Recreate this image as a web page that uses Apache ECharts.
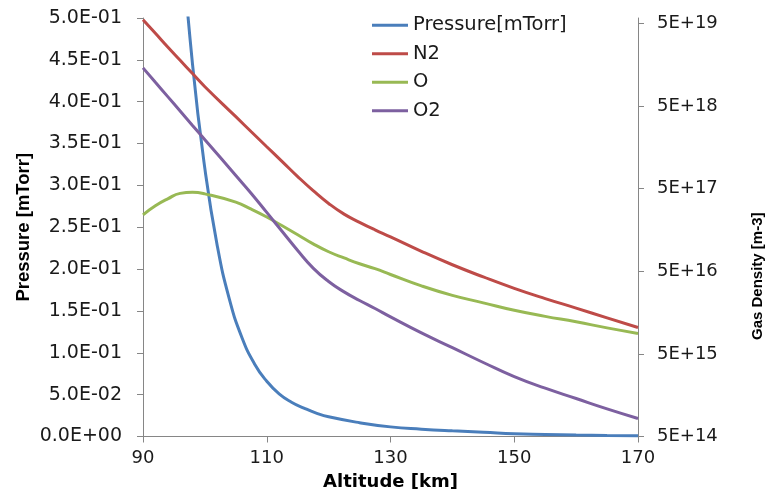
<!DOCTYPE html>
<html><head><meta charset="utf-8">
<script src="https://cdn.jsdelivr.net/npm/echarts@6/dist/echarts.min.js"></script>
<style>html,body{margin:0;padding:0;background:#fff;overflow:hidden}#c{width:769px;height:498px}</style>
</head><body><div id="c"></div>
<script>
// Altitude [km] for pressure curve
const altPressure = [90,92,94,96,98,100,102,104,106,108,110,112,114,116,118,120,125,130,135,140,145,150,155,160,165,170];
// Pressure [mTorr]
const pressure = [1.65,1.21,0.87,0.62,0.445,0.32,0.228,0.163,0.118,0.087,0.066,0.051,0.041,0.034,0.028,0.0235,0.0165,0.0115,0.0088,0.0068,0.0052,0.0032,0.0025,0.0018,0.0013,0.0010];
// Altitude [km] for densities
const altDensity = [90,92,94,96,98,100,105,107.5,110,112.5,115,117.5,120,122.5,125,127.5,130,135,140,145,150,155,160,165,170];
// Gas density [m-3]
const densN2 = [5.51e19,3.78e19,2.58e19,1.78e19,1.23e19,8.53e18,3.70e18,2.43e18,1.60e18,1.06e18,6.98e17,4.72e17,3.30e17,2.45e17,1.95e17,1.58e17,1.30e17,8.69e16,5.98e16,4.26e16,3.10e16,2.33e16,1.79e16,1.36e16,1.04e16];
const densO  = [2.40e17,3.09e17,3.75e17,4.37e17,4.50e17,4.31e17,3.42e17,2.81e17,2.26e17,1.77e17,1.38e17,1.07e17,8.59e16,7.23e16,6.15e16,5.36e16,4.56e16,3.32e16,2.55e16,2.07e16,1.68e16,1.42e16,1.22e16,1.03e16,8.83e15];
const densO2 = [1.44e19,9.64e18,6.47e18,4.34e18,2.90e18,1.95e18,7.18e17,4.36e17,2.57e17,1.51e17,8.90e16,5.45e16,3.75e16,2.81e16,2.21e16,1.77e16,1.40e16,8.96e15,5.94e15,3.93e15,2.65e15,1.92e15,1.44e15,1.08e15,8.26e14];
// Right axis: decades above 5E+14
const densityBase = 5e14;
const densityTickExp = [14,15,16,17,18,19];
const seriesNames = ['Pressure[mTorr]','N2','O','O2'];
const colors = ['#4A7EBB','#BE4B48','#98B954','#7D60A0'];

const pairs = (xs, ys) => xs.map((x,i)=>[x, ys[i]]);
const logPairs = (xs, ys) => xs.map((x,i)=>[x, Math.log10(ys[i]/densityBase)]);

function sci(v){
  v = Math.round(v*1e9)/1e9;
  if (v === 0) return '0.0E+00';
  let e = Math.floor(Math.log10(Math.abs(v)) + 1e-9);
  let m = v/Math.pow(10,e);
  const a = Math.abs(e);
  return m.toFixed(1) + 'E' + (e<0?'-':'+') + (a<10?'0':'') + a;
}

const axisLineColor = '#868686';
const hFont = 'DejaVu Sans';
const vFont = 'Liberation Sans, Arial, sans-serif';

const chart = echarts.init(document.getElementById('c'), null, {renderer:'canvas'});
chart.setOption({
  backgroundColor:'#fff',
  animation:false,
  color: colors,
  grid:{left:143, right:131, top:18, bottom:61.5, containLabel:false, outerBoundsMode:'none'},
  legend:{
    data: seriesNames,
    orient:'vertical', left:367, top:10,
    itemWidth:36, itemHeight:3, itemGap:8, icon:'rect',
    textStyle:{fontFamily:hFont, fontSize:19.5, color:'#1a1a1a', lineHeight:20.5}
  },
  xAxis:{
    type:'value', min:90, max:170, interval:20,
    name:'Altitude [km]', nameLocation:'middle', nameGap:37, nameMoveOverlap:false,
    nameTextStyle:{fontFamily:hFont, fontWeight:'bold', fontSize:18, color:'#000'},
    axisLine:{lineStyle:{color:axisLineColor, width:1}},
    axisTick:{show:true, length:6, lineStyle:{color:axisLineColor}},
    axisLabel:{margin:13, fontFamily:hFont, fontSize:18, color:'#1a1a1a'},
    splitLine:{show:false}
  },
  yAxis:[{
    type:'value', min:0, max:0.5, interval:0.05, position:'left',
    name:'Pressure [mTorr]', nameLocation:'middle', nameGap:110, nameRotate:90, nameMoveOverlap:false,
    nameTextStyle:{fontFamily:vFont, fontWeight:'bold', fontSize:18.5, color:'#000'},
    axisLine:{show:true, lineStyle:{color:axisLineColor, width:1}},
    axisTick:{show:true, length:6, lineStyle:{color:axisLineColor}},
    axisLabel:{margin:21, fontFamily:hFont, fontSize:19, color:'#1a1a1a', formatter:sci},
    splitLine:{show:false}
  },{
    type:'value', min:0, max:5.063, interval:1, position:'right',
    name:'Gas Density [m-3]', nameLocation:'middle', nameGap:112, nameRotate:90, nameMoveOverlap:false,
    nameTextStyle:{fontFamily:vFont, fontWeight:'bold', fontSize:15, color:'#000', padding:[0,98,0,0]},
    axisLine:{show:true, lineStyle:{color:axisLineColor, width:1}},
    axisTick:{show:true, length:6, lineStyle:{color:axisLineColor}},
    axisLabel:{margin:19, fontFamily:hFont, fontSize:18, color:'#1a1a1a', showMaxLabel:false,
      formatter:(v)=>{const r=Math.round(v); if(Math.abs(v-r)>1e-6) return ''; const e=densityTickExp[r]; return '5E+'+e;}},
    splitLine:{show:false}
  }],
  series:[
    {name:seriesNames[0], type:'line', yAxisIndex:0, data:pairs(altPressure, pressure), smooth:0.5, symbol:'none', clip:true, lineStyle:{width:3, color:colors[0]}},
    {name:seriesNames[1], type:'line', yAxisIndex:1, data:logPairs(altDensity, densN2), smooth:0.5, symbol:'none', lineStyle:{width:3, color:colors[1]}},
    {name:seriesNames[2], type:'line', yAxisIndex:1, data:logPairs(altDensity, densO), smooth:0.5, symbol:'none', lineStyle:{width:3, color:colors[2]}},
    {name:seriesNames[3], type:'line', yAxisIndex:1, data:logPairs(altDensity, densO2), smooth:0.5, symbol:'none', lineStyle:{width:3, color:colors[3]}}
  ]
});
</script></body></html>
